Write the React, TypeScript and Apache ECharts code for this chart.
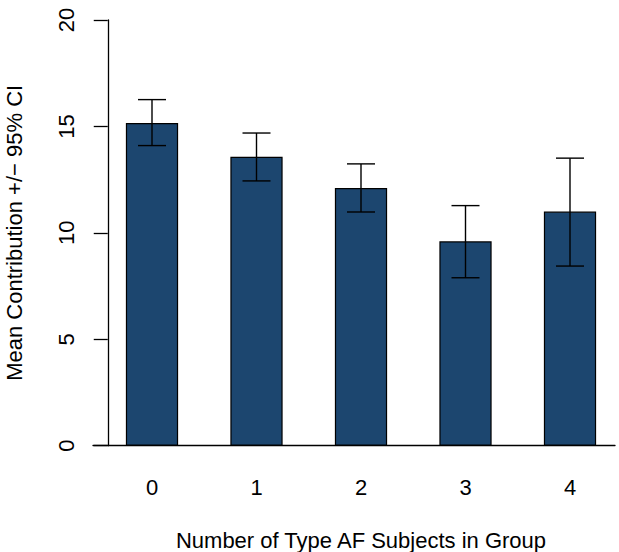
import React, { useEffect, useRef } from "react";
import * as echarts from "echarts";

const categories = ["0", "1", "2", "3", "4"];
const means = [15.16, 13.57, 12.11, 9.6, 11.0];
const lowerCI = [14.1, 12.44, 10.98, 7.89, 8.44];
const upperCI = [16.26, 14.69, 13.24, 11.28, 13.51];
const yTicks = { min: 0, max: 20, interval: 5 };

const FONT = "Liberation Sans, Arial, Helvetica, sans-serif";
const FS = 22;

export default function App() {
  const ref = useRef<HTMLDivElement>(null);
  useEffect(() => {
    document.body.style.margin = "0";
    document.body.style.overflow = "hidden";
    const chart = echarts.init(ref.current!, null, { renderer: "svg" });
    const errData = categories.map((_, i) => [i, lowerCI[i], upperCI[i]]);
    chart.setOption({
      animation: false,
      backgroundColor: "#ffffff",
      grid: [
        { left: 99.75, width: 522.5, top: 20, height: 425.7, outerBoundsMode: "none" },
        { left: 93, width: 522, top: 20, height: 425.7, outerBoundsMode: "none" },
      ],
      xAxis: [
        {
          type: "category",
          gridIndex: 0,
          data: categories,
          axisLine: { show: false },
          axisTick: { show: false },
          axisLabel: { color: "#000", fontSize: FS, fontFamily: FONT, margin: 31 },
          name: "Number of Type AF Subjects in Group",
          nameLocation: "middle",
          nameGap: 84,
          nameTextStyle: { color: "#000", fontSize: FS, fontFamily: FONT },
        },
        {
          type: "value",
          gridIndex: 1,
          min: 0,
          max: 1,
          axisLine: { show: true, onZero: false, lineStyle: { color: "#000", width: 1.3 } },
          axisTick: { show: false },
          axisLabel: { show: false },
          splitLine: { show: false },
        },
      ],
      yAxis: [
        {
          type: "value",
          gridIndex: 0,
          min: yTicks.min,
          max: yTicks.max,
          interval: yTicks.interval,
          offset: -8,
          axisLine: { show: true, lineStyle: { color: "#000", width: 1.3 } },
          axisTick: { show: true, length: 14, lineStyle: { color: "#000", width: 1.3 } },
          axisLabel: { color: "#000", fontSize: FS, fontFamily: FONT, rotate: 90, margin: 30 },
          splitLine: { show: false },
          name: "Mean Contribution +/\u2212 95% CI",
          nameLocation: "middle",
          nameGap: 82,
          nameRotate: 90,
          nameTextStyle: { color: "#000", fontSize: FS, fontFamily: FONT },
        },
        {
          type: "value",
          gridIndex: 1,
          min: yTicks.min,
          max: yTicks.max,
          show: false,
        },
      ],
      series: [
        {
          type: "bar",
          xAxisIndex: 0,
          yAxisIndex: 0,
          data: means,
          barWidth: "50%",
          itemStyle: { color: "#1c466f", borderColor: "#000", borderWidth: 1.2 },
          z: 2,
        },
        {
          type: "custom",
          xAxisIndex: 0,
          yAxisIndex: 0,
          data: errData,
          z: 5,
          renderItem: (params: any, api: any) => {
            const x = api.value(0);
            const lo = api.coord([x, api.value(1)]);
            const hi = api.coord([x, api.value(2)]);
            const hw = 14;
            const style = { stroke: "#000", lineWidth: 1.4 };
            return {
              type: "group",
              children: [
                { type: "line", shape: { x1: lo[0], y1: lo[1], x2: hi[0], y2: hi[1] }, style },
                { type: "line", shape: { x1: hi[0] - hw, y1: hi[1], x2: hi[0] + hw, y2: hi[1] }, style },
                { type: "line", shape: { x1: lo[0] - hw, y1: lo[1], x2: lo[0] + hw, y2: lo[1] }, style },
              ],
            };
          },
        },
      ],
    });
    return () => chart.dispose();
  }, []);
  return (
    <div
      ref={ref}
      style={{ position: "fixed", left: 0, top: 0, width: 619, height: 552 }}
    />
  );
}
